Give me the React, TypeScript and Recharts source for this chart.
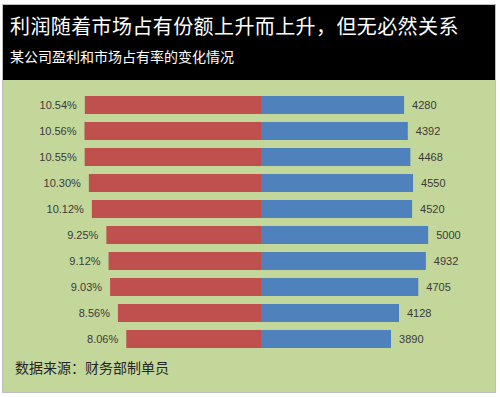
import React from "react";
import { BarChart, Bar, XAxis, YAxis, LabelList } from "recharts";

const rows = ["1", "2", "3", "4", "5", "6", "7", "8", "9", "10"];
const shareRate = [10.54, 10.56, 10.55, 10.3, 10.12, 9.25, 9.12, 9.03, 8.56, 8.06]; // 市场占有率 %
const profit = [4280, 4392, 4468, 4550, 4520, 5000, 4932, 4705, 4128, 3890]; // 盈利

const RED = "#c0504d";
const BLUE = "#4f81bd";
const GREEN = "#c4d79b";
const CJK = '"Noto Sans CJK SC", "Noto Sans", sans-serif';
const NUM = '"Liberation Sans", Arial, sans-serif';

const data = rows.map((name, i) => ({ name, rate: shareRate[i], profit: profit[i] }));

const renderRate = (props: any) => {
  const { x, y, width, height, value } = props;
  const left = Math.min(x, x + width);
  return (
    <text
      x={left - 8}
      y={y + height / 2}
      textAnchor="end"
      dominantBaseline="central"
      fontSize={11}
      fontFamily={NUM}
      fill="#3a3a3a"
    >
      {Number(value).toFixed(2)}%
    </text>
  );
};

const renderProfit = (props: any) => {
  const { x, y, width, height, value } = props;
  const right = Math.max(x, x + width);
  return (
    <text
      x={right + 8}
      y={y + height / 2}
      textAnchor="start"
      dominantBaseline="central"
      fontSize={11}
      fontFamily={NUM}
      fill="#3a3a3a"
    >
      {value}
    </text>
  );
};

export default function App() {
  return (
    <div
      style={{
        position: "absolute",
        left: 0,
        top: 0,
        width: 500,
        height: 397,
        background: "#ffffff",
        overflow: "hidden",
      }}
    >
      <div
        style={{
          position: "absolute",
          left: 3,
          top: 5,
          width: 492,
          height: 387,
          background: GREEN,
          boxShadow: "0 0 0 1px #bfbfbf",
        }}
      />
      <div
        style={{
          position: "absolute",
          left: 3,
          top: 5,
          width: 492,
          height: 75,
          background: "#000000",
        }}
      />
      <div
        style={{
          position: "absolute",
          left: 10,
          top: 13,
          color: "#ffffff",
          fontFamily: CJK,
          fontSize: 20,
          letterSpacing: 0.4,
          lineHeight: "26px",
          whiteSpace: "nowrap",
        }}
      >
        利润随着市场占有份额上升而上升，但无必然关系
      </div>
      <div
        style={{
          position: "absolute",
          left: 10,
          top: 46,
          color: "#ffffff",
          fontFamily: CJK,
          fontSize: 14,
          lineHeight: "20px",
          whiteSpace: "nowrap",
        }}
      >
        某公司盈利和市场占有率的变化情况
      </div>
      <div
        style={{
          position: "absolute",
          left: 15,
          top: 357,
          color: "#262626",
          fontFamily: CJK,
          fontSize: 14,
          lineHeight: "20px",
          whiteSpace: "nowrap",
        }}
      >
        数据来源：财务部制单员
      </div>
      <div style={{ position: "absolute", left: 0, top: 0 }}>
        <BarChart
          width={500}
          height={397}
          data={data}
          layout="vertical"
          margin={{ top: 92, right: 5, bottom: 45, left: 27 }}
        >
          <XAxis xAxisId="rate" type="number" domain={[-14, 14]} reversed hide allowDataOverflow />
          <XAxis xAxisId="profit" type="number" domain={[-7000, 7000]} hide allowDataOverflow />
          <YAxis yAxisId="l" type="category" dataKey="name" hide />
          <YAxis yAxisId="r" type="category" dataKey="name" hide />
          <Bar
            dataKey="rate"
            xAxisId="rate"
            yAxisId="l"
            fill={RED}
            barSize={18}
            isAnimationActive={false}
          >
            <LabelList dataKey="rate" content={renderRate} />
          </Bar>
          <Bar
            dataKey="profit"
            xAxisId="profit"
            yAxisId="r"
            fill={BLUE}
            barSize={18}
            isAnimationActive={false}
          >
            <LabelList dataKey="profit" content={renderProfit} />
          </Bar>
        </BarChart>
      </div>
    </div>
  );
}
